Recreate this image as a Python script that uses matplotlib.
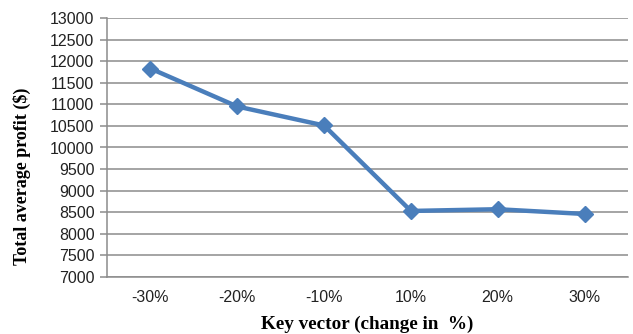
import matplotlib

matplotlib.use("Agg")
import matplotlib.pyplot as plt

# Total average profit for each change of the key vector
changes = ["-30%", "-20%", "-10%", "10%", "20%", "30%"]
profit = [11830, 10950, 10510, 8530, 8570, 8460]
y_ticks = list(range(7000, 13001, 500))

line_color = "#4A7EBB"
grid_color = "#8C8C8C"

fig = plt.figure(figsize=(6.33, 3.34), dpi=100)
ax = fig.add_axes([107 / 633, 1 - 277 / 334, 521 / 633, 259 / 334])

x = list(range(len(changes)))
ax.plot(
    x,
    profit,
    color=line_color,
    linewidth=3.2,
    marker="D",
    markersize=8,
    markerfacecolor=line_color,
    markeredgecolor=line_color,
    solid_joinstyle="round",
    zorder=3,
)

ax.set_xlim(-0.5, len(changes) - 0.5)
ax.set_ylim(7000, 13000)
ax.set_yticks(y_ticks)
ax.set_xticks(x)
ax.set_xticklabels(changes)

ax.grid(axis="y", color=grid_color, linewidth=1.1)
ax.set_axisbelow(True)

for side in ("top", "right"):
    ax.spines[side].set_visible(False)
for side in ("left", "bottom"):
    ax.spines[side].set_color(grid_color)
    ax.spines[side].set_linewidth(1.1)

ax.tick_params(axis="y", length=5, color=grid_color, width=1.1, pad=4)
ax.tick_params(axis="x", length=0, pad=9)
for label in ax.get_xticklabels() + ax.get_yticklabels():
    label.set_fontfamily("Liberation Sans")
    label.set_fontsize(11.5)
    label.set_color("#222222")

ax.set_xlabel(
    "Key vector (change in  %)",
    fontfamily="Liberation Serif",
    fontweight="bold",
    fontsize=13.8,
    labelpad=8,
)

# y title sits a little below the middle of the plot area
fig.text(
    22 / 633,
    1 - 176 / 334,
    "Total average profit ($)",
    rotation=90,
    ha="center",
    va="center",
    fontfamily="Liberation Serif",
    fontweight="bold",
    fontsize=13,
)

fig.savefig("out.png", dpi=100)
